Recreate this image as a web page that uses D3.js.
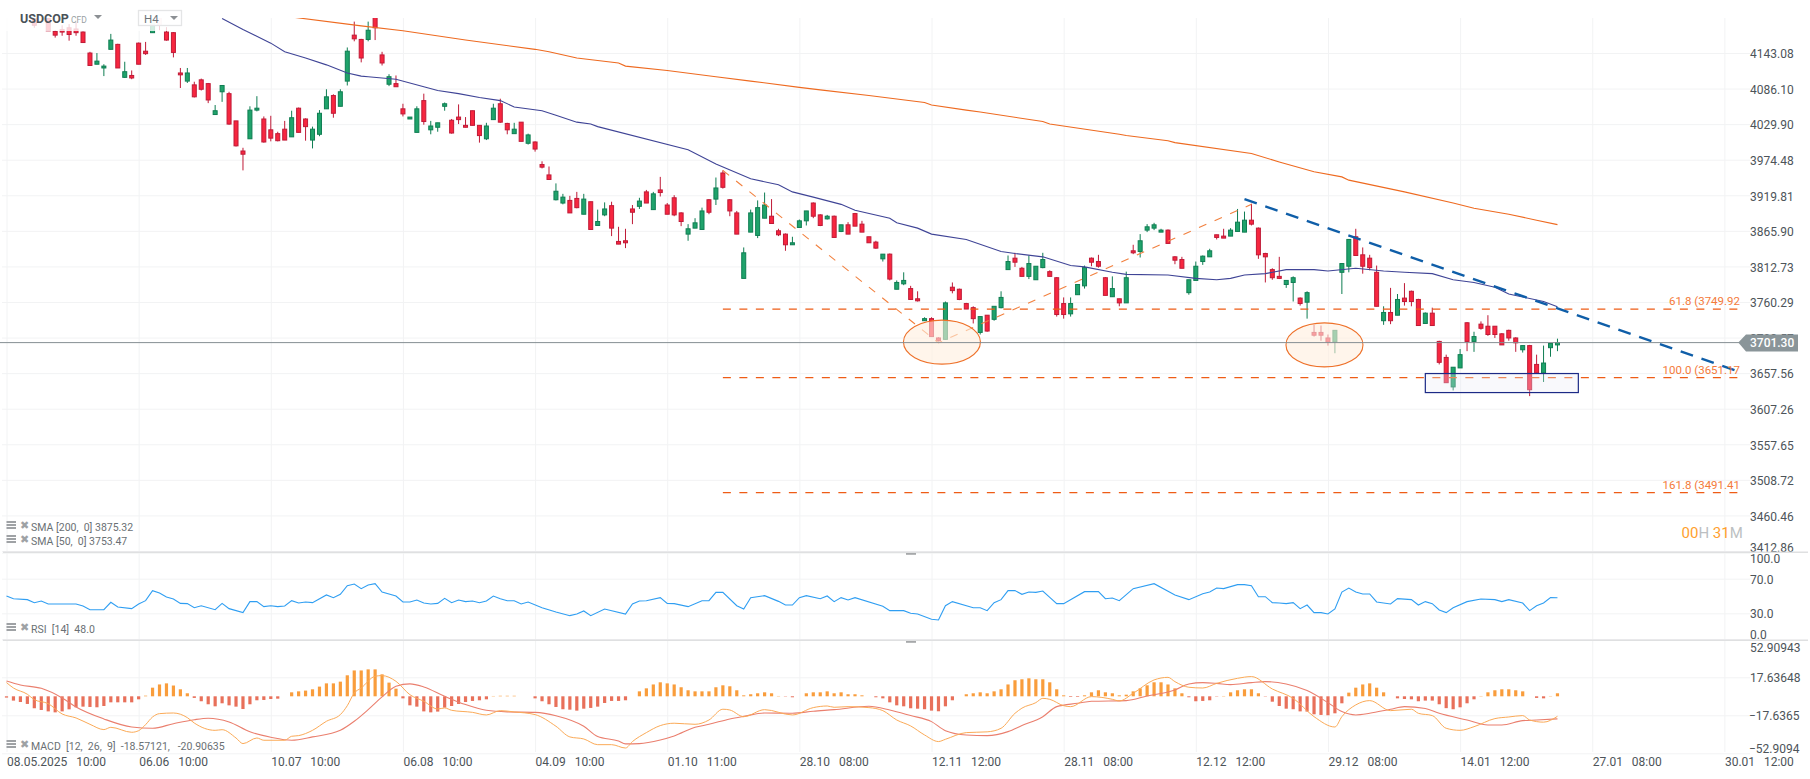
<!DOCTYPE html>
<html>
<head>
<meta charset="utf-8">
<title>USDCOP</title>
<script src="https://cdn.jsdelivr.net/npm/d3@7/dist/d3.min.js"></script>
<style>
  html, body { margin: 0; padding: 0; background: #fff; overflow: hidden; }
  text { font-family: Roboto, sans-serif; }
  .tick text { white-space: pre; }
</style>
</head>
<body>
<div id="chart-area"></div>
<script>
// candles, first one is bar 0
let opens = [
  4199,4215,4199,4178,4181,4184,4182,4177,4143,4125,
  4119,4149,4157,4104,4107,4159,4146,4176,4200,4177,
  4176,4111,4098,4092,4100,4094,4045,4081,4078,4035,
  3988,4007,4052,4038,4021,4015,4022,4010,4055,4038,
  4005,4014,4054,4075,4058,4098,4172,4165,4165,4205,
  4140,4093,4094,4054,4038,4017,4067,4021,4025,4058,
  4036,4041,4028,4051,4028,4007,4037,4062,4031,4015,
  4033,4000,4002,3967,3951,3913,3908,3912,3915,3891,
  3910,3874,3890,3904,3850,3851,3899,3903,3925,3898,
  3928,3905,3916,3893,3861,3870,3868,3913,3914,3954,
  3913,3893,3795,3864,3859,3885,3888,3866,3861,3845,
  3871,3881,3908,3890,3884,3888,3865,3875,3892,3876,
  3857,3849,3824,3831,3779,3787,3780,3765,3733,3736,
  3708,3706,3782,3779,3758,3752,3716,3741,3735,3752,
  3808,3825,3810,3798,3793,3811,3805,3796,3758,3743,
  3771,3784,3825,3820,3796,3768,3765,3759,3836,3835,
  3867,3870,3864,3867,3827,3823,3774,3792,3820,3827,
  3860,3858,3858,3865,3864,3882,3870,3832,3808,3798,
  3786,3789,3766,3760,3716,3716,3708,3702,3804,3813,
  3857,3830,3825,3804,3733,3745,3741,3766,3776,3764,
  3729,3744,3703,3680,3638,3665,3730,3703,3728,3725,
  3725,3714,3719,3708,3691,3697,3670,3658,3694,3698
];
let highs = [
  4199,4225,4200,4180,4188,4190,4193,4178,4145,4143,
  4125,4174,4158,4129,4115,4160,4161,4199,4210,4185,
  4177,4119,4119,4097,4102,4095,4060,4091,4081,4035,
  3993,4058,4074,4042,4043,4018,4035,4051,4056,4039,
  4026,4052,4085,4077,4085,4152,4194,4166,4194,4215,
  4145,4109,4107,4062,4041,4058,4078,4035,4032,4064,
  4038,4061,4041,4051,4028,4032,4062,4070,4032,4032,
  4033,4015,4003,3972,3964,3938,3922,3919,3925,3922,
  3910,3898,3909,3910,3872,3869,3905,3916,3928,3925,
  3948,3908,3920,3894,3876,3885,3901,3914,3947,3958,
  3914,3896,3841,3898,3912,3924,3914,3869,3862,3857,
  3883,3896,3909,3891,3890,3889,3875,3879,3893,3881,
  3857,3851,3831,3832,3792,3804,3784,3776,3738,3738,
  3709,3761,3789,3780,3759,3754,3739,3741,3754,3776,
  3829,3833,3812,3829,3813,3833,3807,3797,3767,3767,
  3786,3814,3826,3830,3797,3798,3765,3805,3845,3861,
  3876,3878,3869,3868,3828,3827,3793,3820,3829,3839,
  3860,3869,3870,3899,3895,3907,3871,3833,3810,3827,
  3792,3798,3767,3776,3727,3726,3713,3719,3817,3853,
  3869,3841,3830,3814,3754,3781,3772,3788,3777,3765,
  3745,3752,3704,3684,3666,3692,3731,3717,3732,3741,
  3725,3715,3720,3709,3697,3698,3684,3697,3700,3707
];
let lows = [
  4184,4200,4179,4168,4171,4163,4171,4160,4123,4125,
  4106,4149,4119,4103,4101,4125,4140,4176,4180,4163,
  4136,4087,4095,4072,4083,4063,4045,4065,4029,3995,
  3958,4007,4050,4001,4003,4003,4005,4010,4017,4004,
  3992,4011,4054,4040,4058,4091,4162,4128,4162,4164,
  4123,4090,4089,4042,4038,4017,4029,4014,4018,4051,
  4015,4030,4025,4028,4001,4005,4037,4032,4014,4015,
  4003,3998,3987,3961,3944,3912,3906,3893,3900,3891,
  3868,3874,3888,3858,3846,3840,3876,3899,3908,3898,
  3918,3891,3888,3873,3851,3870,3868,3891,3905,3930,
  3888,3861,3795,3864,3855,3885,3877,3858,3836,3845,
  3871,3874,3885,3873,3883,3856,3864,3861,3873,3864,
  3848,3839,3820,3792,3779,3785,3764,3761,3733,3710,
  3703,3706,3773,3763,3750,3729,3713,3717,3733,3751,
  3808,3812,3798,3794,3793,3810,3798,3739,3736,3739,
  3771,3780,3813,3811,3770,3768,3754,3759,3831,3826,
  3864,3867,3864,3847,3816,3810,3771,3792,3815,3827,
  3853,3855,3858,3865,3864,3874,3824,3789,3793,3794,
  3781,3761,3755,3736,3710,3704,3697,3686,3772,3804,
  3829,3802,3807,3754,3727,3728,3741,3755,3754,3726,
  3729,3726,3670,3644,3633,3665,3689,3688,3720,3711,
  3708,3698,3704,3688,3687,3625,3657,3645,3681,3689
];
let closes = [
  4188,4205,4179,4172,4177,4173,4176,4160,4123,4130,
  4122,4164,4119,4113,4103,4125,4142,4196,4188,4164,
  4144,4108,4111,4073,4085,4068,4051,4091,4030,3996,
  3983,4052,4055,4002,4008,4004,4005,4040,4017,4026,
  4022,4047,4073,4047,4081,4146,4166,4135,4180,4184,
  4127,4105,4089,4046,4041,4054,4034,4027,4032,4062,
  4016,4037,4025,4028,4012,4027,4055,4033,4021,4022,
  4003,4013,3991,3963,3944,3926,3917,3893,3901,3914,
  3868,3880,3899,3870,3846,3848,3894,3911,3908,3922,
  3924,3891,3890,3880,3869,3878,3896,3894,3931,3932,
  3896,3861,3833,3893,3901,3905,3877,3860,3845,3848,
  3881,3896,3888,3874,3888,3856,3875,3861,3873,3864,
  3848,3840,3831,3794,3789,3792,3764,3762,3736,3710,
  3704,3759,3777,3764,3750,3736,3739,3718,3754,3767,
  3820,3819,3798,3817,3813,3823,3798,3742,3742,3758,
  3786,3811,3819,3813,3770,3780,3759,3796,3833,3851,
  3872,3875,3867,3847,3822,3810,3793,3813,3828,3836,
  3856,3855,3867,3879,3882,3876,3830,3827,3796,3795,
  3792,3796,3758,3774,3712,3712,3702,3719,3817,3853,
  3829,3813,3811,3754,3745,3733,3764,3761,3761,3726,
  3744,3726,3673,3644,3666,3684,3703,3710,3722,3713,
  3713,3698,3708,3701,3697,3634,3658,3672,3700,3701.3
];

// moving averages, read at the bars where they bend
let sma200Bars = [36,47,53,62,72,74,78,84,85,91,98,103,110,113,120,128,129,134,136,145,146,156,157,163,164,175,179,184,188,189,197,204,207,212,216,219];
let sma200Vals = [4203,4187,4179,4164,4149,4145,4135,4127,4122,4115,4105,4098,4088,4084,4075,4064,4060,4052,4049,4034,4030,4014,4012,4004,4001,3984,3971,3956,3948,3943,3925,3908,3900,3891,3882,3875.32];
let sma50Bars = [27,30,34,36,39,42,45,47,48,52,56,58,61,64,67,69,73,75,78,80,81,94,98,103,107,109,112,116,118,123,124,127,129,134,139,141,145,149,151,155,157,163,167,170,172,174,177,180,184,186,190,194,197,201,204,207,210,212,217,219];
let sma50Vals = [4199,4181,4159,4145,4135,4124,4111,4106,4105,4101,4089,4083,4078,4072,4067,4057,4051,4044,4033,4030,4026,3990,3968,3945,3936,3925,3917,3906,3897,3885,3878,3870,3861,3853,3835,3832,3827,3814,3812,3804,3801,3800,3795,3793,3795,3800,3802,3808,3808,3806,3810,3806,3804,3802,3793,3789,3782,3772,3761,3753.47];

// RSI
let rsiBars = [-4,-3,-1,0,1,2,6,7,8,10,11,12,14,15,16,17,18,19,20,21,22,23,24,26,27,28,30,31,32,33,34,35,36,37,38,39,40,42,43,44,45,46,47,48,49,50,52,53,54,55,56,57,58,59,60,61,62,63,64,65,66,67,68,69,70,71,73,75,77,78,79,80,82,85,86,87,88,90,91,92,94,96,97,98,99,101,102,103,105,107,108,109,110,111,113,114,115,116,117,118,122,123,125,126,127,129,130,131,132,135,136,137,138,139,140,141,142,143,144,145,146,147,148,151,153,154,155,156,158,161,164,166,168,169,170,171,173,174,175,176,177,178,179,180,181,182,183,184,185,186,187,188,189,190,191,192,193,195,196,198,199,200,201,202,203,204,206,208,210,211,212,214,215,216,217,218,219];
let rsiVals = [50,46.9,45.8,42.3,44.2,40.8,40.8,38.5,34.2,34.2,42.7,37.3,35.4,40.8,44.6,56.2,53.5,48.8,46.5,41.5,41.2,36.5,38.8,34.2,41.5,35.4,30.8,43.5,43.5,37.7,38.8,37.7,38.5,44.6,41.9,43.1,42.3,51.2,48.1,51.9,61.9,63.8,58.5,62.7,64.2,54.6,50,43.1,43.1,45.4,41.9,40.8,41.5,47.3,42.3,45.4,43.5,44.2,42.3,44.2,50,46.9,44.6,44.6,40.8,43.1,36.5,31.5,27.3,29.2,32.7,27.3,35,29.2,40.8,44.2,44.6,48.1,41.5,41.2,37.7,44.6,44.6,54.2,54.2,38.8,35,48.1,50.4,43.8,39.6,39.6,48.1,50.4,46.9,50,43.5,48.1,45.4,48.1,38.1,33.1,33.1,30,29.2,23.1,22.3,38.8,43.5,36.5,36.5,33.1,42.3,45.8,56.2,56.2,51.9,54.6,54.2,55.8,48.5,41.2,41.2,55,55,46.9,47.7,44.6,58.5,64.2,51.2,45.8,52.7,54.6,59.2,58.5,63.1,63.1,61.9,49.2,49.2,42.3,41.9,41.2,42.3,35.4,39.6,30.8,30.8,29.2,35,54.6,59.2,54.6,52.3,52.3,43.1,40.8,46.9,45.8,39.6,43.5,41.2,33.8,30.8,36.5,43.5,46.5,45.8,43.5,45.8,41.9,33.1,38.8,41.9,48.1,48];

// MACD, histogram has one value per bar starting at bar -4
let histFirstBar = -4;
let histVals = [
  -1.2,-4,-5.3,-7.1,-11.1,-12.7,-14,-14.9,-14,-12.1,-10.2,-9.6,-9.9,-10.2,-9,-5.6,-5.6,-5.6,-5.6,-2.8,
  0.6,8,11,12,10,6.5,2.8,-1.5,-4.6,-7.4,-9.3,-6.5,-8.4,-9.6,-11.8,-7.4,-3.7,-3.4,-2.5,-2.2,
  0,3.7,4.6,5.3,6.5,9,12,12,13.6,19.5,24,24,25,25,20.4,12.7,7.1,-1.9,-8.4,-9.6,
  -14,-14.9,-14.2,-10.5,-9,-7.1,-5.3,-4.3,-3.7,-2.8,0.3,0.5,0.5,0.5,0,0,-1.9,-4.6,-7.4,-9.9,
  -12,-12.4,-13.3,-11.5,-10.8,-9.6,-6.2,-4.3,-4.3,-3.7,0,4.6,7.4,11,13,12,11,8.4,5.6,4.6,
  4.6,4.6,8.4,10.2,9.3,5.6,0.9,1.9,2.8,3.7,2.8,0.3,-0.3,-0.9,0,2.8,3.7,3.7,4.6,2.8,
  3.7,1.9,1.9,0.9,0,-0.9,-1.9,-5.6,-8.4,-9.3,-11.1,-11.5,-12,-13.3,-13.9,-9.3,-3.7,0,1.9,2.8,
  3.7,2.8,4.6,6.5,11,14.9,15.8,16.7,15.8,15.8,13,6.5,0.9,-0.6,-0.6,0.9,3.7,5.6,3.7,2.8,
  0.9,1.5,4.6,7.4,10.2,13,13,11,7.4,2.8,-0.9,-4.6,-4.3,-3.7,-0.3,0.3,3.7,5.6,6.5,6.5,
  2.8,-0.3,-5,-9,-11.5,-12,-14,-14.2,-16.7,-17.3,-17.6,-15.8,-6.5,3.4,8,11,12,8,3.7,0,
  -1.9,-2.5,-2.8,-4.6,-4,-4,-7.4,-11,-12,-10.2,-6.5,-2.8,0.3,3.7,5.6,6.5,6.5,5.6,4.6,0,
  -1.5,-1.9,0.3,2.8
];
let macdBars = [-4,-3,-1,0,2,4,6,8,10,11,14,15,16,17,18,20,22,23,26,27,29,30,32,33,36,37,38,40,42,44,45,46,47,49,50,52,54,56,58,59,60,63,65,67,69,72,75,77,79,81,83,85,86,88,90,92,95,97,99,100,102,105,109,112,114,115,117,120,122,124,126,128,130,131,134,137,139,141,142,144,145,146,148,149,152,155,156,158,161,163,164,166,168,170,173,175,178,181,184,187,188,190,192,195,198,199,201,203,205,207,210,212,214,215,217,219];
let macdVals = [12.7,7.7,1.9,-3.1,-6.8,-16.4,-20.1,-26,-30.9,-28.8,-33.4,-31.9,-26.3,-19.2,-16.1,-15.5,-19.8,-24.8,-31.6,-31,-38.7,-43.9,-38.7,-40.8,-40.8,-37.1,-36.5,-31.6,-23.2,-17,-8.7,3.1,7.7,18.6,19.2,13.9,1.5,-4.6,-11.8,-10.8,-13,-14.9,-17.3,-13.3,-14.5,-17,-27.8,-37.7,-39.6,-44.9,-44.9,-48,-42,-33.7,-27.2,-25,-26,-22,-12,-12.7,-18.9,-12.4,-17.3,-10.5,-9,-10.2,-9.6,-10.5,-13.3,-22,-27.5,-35.9,-42,-39.9,-33.7,-33,-29.7,-15.8,-11,-5.9,-1.9,-2.8,-8.7,-9.6,-0.3,-2.8,-4.3,2.8,15.2,17.6,13.6,8.4,7.7,12,16.7,18.3,6.8,-1.9,-18.9,-28.5,-18.9,-8,-4,-13.3,-12,-15.8,-17.9,-29.7,-31.6,-28.2,-20.7,-19.2,-17.9,-22,-24,-18.57];
let signalBars = [-4,-2,1,4,6,10,14,17,20,23,25,28,31,34,37,40,44,46,48,50,52,54,56,59,62,65,68,72,75,79,81,84,85,87,90,92,95,97,100,102,105,109,112,115,120,123,126,129,131,134,137,140,142,145,147,150,152,157,160,164,166,168,170,172,175,177,180,183,186,188,190,192,195,197,200,202,206,209,211,214,216,219];
let signalVals = [14.2,10.5,7.4,-1.5,-9.9,-21,-28.5,-29.7,-25.4,-21.7,-20.4,-23.8,-33,-38,-40.8,-37.7,-31.6,-23.2,-12.4,-0.6,9.3,11.5,8.7,0,-7.7,-13,-14.5,-14.9,-18,-27.8,-37.4,-41.5,-44.2,-43.9,-40.5,-36.8,-28.8,-26,-21,-18.6,-15.5,-15.8,-13.9,-12.4,-9.3,-12.7,-17.9,-23.5,-31.9,-35.9,-36.5,-32.8,-27.2,-18.9,-9.6,-6.5,-4.6,-4,0.3,5.9,11.4,12.7,12,10.8,12.7,13.6,11.4,5.3,-5.9,-14.2,-17.3,-15.8,-12,-9.6,-11.4,-15.8,-22,-26.6,-26.6,-22.6,-22,-20.91];

// tick labels
let priceTicks = [4143.08,4086.10,4029.90,3974.48,3919.81,3865.90,3812.73,3760.29,3708.57,3657.56,3607.26,3557.65,3508.72,3460.46,3412.86];
let rsiTicks = [100,70,30,0];
let macdTicks = [52.90943,17.63648,-17.6365,-52.9094];
let timeLabels = ["08.05.2025   10:00","06.06   10:00","10.07   10:00","06.08   10:00","04.09   10:00","01.10   11:00","28.10   08:00","12.11   12:00","28.11   08:00","12.12   12:00","29.12   08:00","14.01   12:00","27.01   08:00","30.01   12:00"];
let timeBars = [-4,15,34,53,72,91,110,129,148,167,186,205,224,243];

// drawn objects on the price panel
let lastPrice = 3701.30;
let fibLevels = [3749.92,3651.17,3491.41];
let fibLabels = ["61.8 (3749.92","100.0 (3651.17","161.8 (3491.41"];
let fibStartBar = 99, fibEndBar = 245;
let fibPathBars = [99,130,175];
let fibPathVals = [3958,3701,3906];
let trendBars = [174,245];
let trendVals = [3914,3660];
let ellipseBars = [130.5,185.5];
let ellipseVals = [3702,3698];
let boxBars = [200,222];
let boxVals = [3657,3630];

let candleUp = "#1fa36b", candleUpLine = "#0f7d52";
let candleDown = "#f7263f", candleDownLine = "#bf1a37";

let width = 1810, height = 779;
let left = 2, gridRight = 1750, plotRight = 1740;

let svg = d3.select("#chart-area").append("svg")
    .attr("width", width)
    .attr("height", height)
    .style("display", "block");

// scales
let x = d3.scaleLinear().domain([-4, 245]).range([6.5, 1738.3]);
let y = d3.scaleLog().domain([3412.86, 4143.08]).range([551, 53]);
let yRsi = d3.scaleLinear().domain([0, 100]).range([639.3, 552.7]);
let yMacd = d3.scaleLinear().domain([-52.9094, 52.90943]).range([753.3, 639.3]);

svg.append("clipPath").attr("id", "main-clip").append("rect")
    .attr("x", 0).attr("y", 18).attr("width", plotRight).attr("height", 534);

// axes, tick lines double as the grid
function styleAxis(g) {
  g.select(".domain").remove();
  g.selectAll("line").attr("stroke", "#f2f3f4").attr("stroke-width", 1);
  g.selectAll("text").attr("fill", "#4d5459").attr("font-size", "12px");
}

svg.append("g")
    .attr("transform", "translate(0,752)")
    .call(d3.axisBottom(x).tickValues(timeBars)
      .tickFormat(function(d, i) { return timeLabels[i]; })
      .tickSize(-734).tickPadding(0))
    .call(styleAxis)
    .selectAll("text")
      .attr("text-anchor", "start")
      .attr("y", 14)
      .attr("dy", 0);

svg.append("g")
    .attr("transform", "translate(" + gridRight + ",0)")
    .call(d3.axisRight(y).tickValues(priceTicks)
      .tickFormat(d3.format(".2f"))
      .tickSize(-(gridRight - left)).tickPadding(0))
    .call(styleAxis)
    .selectAll("text")
      .attr("dy", function(d) { return d < 3420 ? "0em" : "0.4em"; });

svg.append("g")
    .attr("transform", "translate(" + gridRight + ",0)")
    .call(d3.axisRight(yRsi).tickValues(rsiTicks)
      .tickFormat(d3.format(".1f"))
      .tickSize(-(gridRight - left)).tickPadding(0))
    .call(styleAxis)
    .selectAll("text")
      .attr("dy", function(d) { return d == 100 ? "0.85em" : (d == 0 ? "-0.05em" : "0.36em"); });

svg.append("g")
    .attr("transform", "translate(" + gridRight + ",0)")
    .call(d3.axisRight(yMacd).tickValues(macdTicks)
      .tickFormat(function(d) { return d3.format("")(d); })
      .tickSize(-(gridRight - left)).tickPadding(0))
    .call(styleAxis)
    .selectAll("text")
      .attr("dy", function(d) { return d > 50 ? "1.0em" : (d < -50 ? "-0.1em" : "0.36em"); })
      .attr("x", function(d) { return d < 0 ? -1 : 0; });

// panel separators
[552, 640].forEach(function(sy) {
  svg.append("rect").attr("x", 3).attr("y", sy - 0.5).attr("width", 1805).attr("height", 1.5).attr("fill", "#dfe0e1");
  svg.append("rect").attr("x", 906).attr("y", sy + 1).attr("width", 10).attr("height", 1.8).attr("fill", "#a6a8aa");
});

// candles
let main = svg.append("g").attr("clip-path", "url(#main-clip)");
let candles = main.selectAll(".candle")
    .data(d3.range(opens.length))
    .enter().append("g")
    .attr("class", "candle");

candles.append("line")
    .attr("x1", function(i) { return x(i); })
    .attr("x2", function(i) { return x(i); })
    .attr("y1", function(i) { return y(highs[i]); })
    .attr("y2", function(i) { return y(lows[i]); })
    .attr("stroke", function(i) { return closes[i] >= opens[i] ? candleUpLine : candleDownLine; })
    .attr("stroke-width", 1);

candles.append("rect")
    .attr("x", function(i) { return x(i) - 2; })
    .attr("y", function(i) { return y(Math.max(opens[i], closes[i])); })
    .attr("width", 4)
    .attr("height", function(i) { return Math.max(1, Math.abs(y(opens[i]) - y(closes[i]))); })
    .attr("fill", function(i) { return closes[i] >= opens[i] ? candleUp : candleDown; })
    .attr("stroke", function(i) { return closes[i] >= opens[i] ? candleUpLine : candleDownLine; })
    .attr("stroke-width", 1);

// moving averages
function sparseLine(bars, vals, scale, curve) {
  return d3.line()
    .x(function(d) { return x(d); })
    .y(function(d, i) { return scale(vals[i]); })
    .curve(curve)(bars);
}

main.append("path")
    .attr("d", sparseLine(sma200Bars, sma200Vals, y, d3.curveLinear))
    .attr("fill", "none").attr("stroke", "#ee6a20").attr("stroke-width", 1.1);
main.append("path")
    .attr("d", sparseLine(sma50Bars, sma50Vals, y, d3.curveLinear))
    .attr("fill", "none").attr("stroke", "#3f4496").attr("stroke-width", 1.1);

// fibonacci levels
main.selectAll(".fib")
    .data(fibLevels)
    .enter().append("line")
    .attr("class", "fib")
    .attr("x1", x(fibStartBar))
    .attr("x2", x(fibEndBar))
    .attr("y1", function(d) { return y(d); })
    .attr("y2", function(d) { return y(d); })
    .attr("stroke", "#ee5c16")
    .attr("stroke-width", 1.3)
    .attr("stroke-dasharray", "8,8.5");

main.append("path")
    .attr("d", sparseLine(fibPathBars, fibPathVals, y, d3.curveLinear))
    .attr("fill", "none")
    .attr("stroke", "#f2813f")
    .attr("stroke-width", 1.1)
    .attr("stroke-dasharray", "8,9");

svg.selectAll(".fib-label")
    .data(fibLabels)
    .enter().append("text")
    .attr("class", "fib-label")
    .attr("x", plotRight)
    .attr("y", function(d, i) { return y(fibLevels[i]) - 4; })
    .attr("text-anchor", "end")
    .attr("font-size", "11.5px")
    .attr("fill", "#f47a3a")
    .text(function(d) { return d; });

// highlight ellipses and box
main.selectAll(".zone")
    .data(ellipseBars)
    .enter().append("ellipse")
    .attr("class", "zone")
    .attr("cx", function(d) { return x(d); })
    .attr("cy", function(d, i) { return y(ellipseVals[i]); })
    .attr("rx", 38.5)
    .attr("ry", 22)
    .attr("fill", "rgba(255,239,222,0.6)")
    .attr("stroke", "#ee7028")
    .attr("stroke-width", 1.1);

main.append("rect")
    .attr("x", x(boxBars[0]))
    .attr("y", y(boxVals[0]))
    .attr("width", x(boxBars[1]) - x(boxBars[0]))
    .attr("height", y(boxVals[1]) - y(boxVals[0]))
    .attr("fill", "rgba(235,235,245,0.3)")
    .attr("stroke", "#1c2a86")
    .attr("stroke-width", 1.2);

// last price
main.append("line")
    .attr("x1", 0).attr("x2", plotRight)
    .attr("y1", y(lastPrice)).attr("y2", y(lastPrice))
    .attr("stroke", "#858e92").attr("stroke-width", 1);

// blue trend line
main.append("path")
    .attr("d", sparseLine(trendBars, trendVals, y, d3.curveLinear))
    .attr("fill", "none")
    .attr("stroke", "#0f5ea8")
    .attr("stroke-width", 2.4)
    .attr("stroke-dasharray", "13,9");

// price tag
let tagY = y(lastPrice);
svg.append("polygon")
    .attr("points", [[1738.3,tagY],[1746,tagY-8],[1798,tagY-8],[1798,tagY+9],[1746,tagY+9]].join(" "))
    .attr("fill", "#8a9599");
svg.append("text")
    .attr("x", 1750).attr("y", tagY + 4.5)
    .attr("font-size", "12px").attr("font-weight", 500)
    .attr("fill", "#fff")
    .text(d3.format(".2f")(lastPrice));

// RSI
svg.append("path")
    .attr("d", sparseLine(rsiBars, rsiVals, yRsi, d3.curveLinear))
    .attr("fill", "none").attr("stroke", "#2f9ef2").attr("stroke-width", 1.1);

// MACD
svg.selectAll(".hist")
    .data(histVals)
    .enter().append("rect")
    .attr("class", "hist")
    .attr("x", function(d, i) { return x(histFirstBar + i) - 1.6; })
    .attr("y", function(d) { return d > 0 ? yMacd(d) : yMacd(0); })
    .attr("width", 3.2)
    .attr("height", function(d) { return Math.abs(yMacd(d) - yMacd(0)); })
    .attr("fill", function(d) { return d > 0 ? "#f99d3c" : "#e8705a"; });

svg.append("path")
    .attr("d", sparseLine(signalBars, signalVals, yMacd, d3.curveMonotoneX))
    .attr("fill", "none").attr("stroke", "#ea7f6e").attr("stroke-width", 1.1);
svg.append("path")
    .attr("d", sparseLine(macdBars, macdVals, yMacd, d3.curveMonotoneX))
    .attr("fill", "none").attr("stroke", "#fbaa57").attr("stroke-width", 1);

// header, sits on a see-through white plate over the candles
svg.append("rect")
    .attr("x", 6).attr("y", 0).attr("width", 180).attr("height", 31)
    .attr("fill", "#fff").attr("opacity", 0.8);
svg.append("text").attr("x", 20).attr("y", 23)
    .attr("font-size", "12.5px").attr("font-weight", 700).attr("fill", "#4a5258").text("USDCOP");
svg.append("text").attr("x", 71).attr("y", 23)
    .attr("font-size", "8.5px").attr("fill", "#9a9fa3").text("CFD");
svg.append("path").attr("d", "M94,15 L102,15 L98,19 Z").attr("fill", "#8c9094");
svg.append("rect")
    .attr("x", 138.5).attr("y", 10.5).attr("width", 43).attr("height", 15)
    .attr("fill", "#fff").attr("fill-opacity", 0.85).attr("stroke", "#e4e5e6").attr("stroke-width", 1.3);
svg.append("text").attr("x", 144).attr("y", 23)
    .attr("font-size", "11.5px").attr("fill", "#70767a").text("H4");
svg.append("path").attr("d", "M170,16 L178,16 L174,20 Z").attr("fill", "#8c9094");

// indicator legends
let legendY = [527, 541, 629, 746];
let legendText = ["SMA [200,  0] 3875.32", "SMA [50,  0] 3753.47", "RSI  [14]  48.0", "MACD  [12,  26,  9]  -18.57121,   -20.90635"];
legendText.forEach(function(t, i) {
  let ly = legendY[i];
  [-6, -3, 0].forEach(function(dy) {
    svg.append("rect").attr("x", 6.5).attr("y", ly + dy).attr("width", 9.5).attr("height", 2).attr("fill", "#9fa2a5");
  });
  svg.append("text").attr("x", 19.5).attr("y", ly + 2)
      .attr("font-family", "DejaVu Sans").attr("font-size", "11px").attr("fill", "#9fa2a5").text("\u2716");
  svg.append("text").attr("x", 31).attr("y", ly + 4)
      .attr("font-size", "10.5px").attr("fill", "#6a7074").style("white-space", "pre").text(t);
});

// countdown
let countdown = svg.append("text").attr("x", 1681.5).attr("y", 537.5).attr("font-size", "15px");
[["00","#ff9f2e"],["H","#bcbfc2"],[" 31","#ff9f2e"],["M","#bcbfc2"]].forEach(function(p) {
  countdown.append("tspan").attr("fill", p[1]).style("white-space", "pre").text(p[0]);
});
</script>
</body>
</html>
